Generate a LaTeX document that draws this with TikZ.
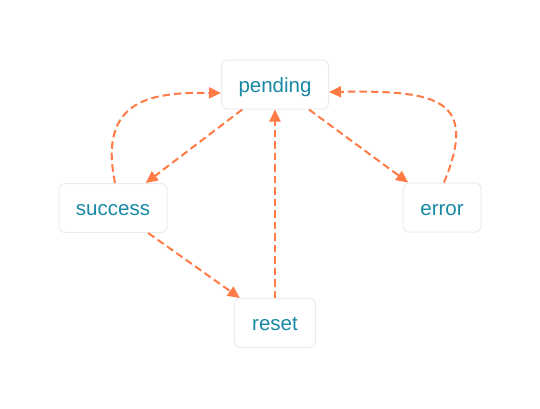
\documentclass[tikz,border=0pt]{standalone}
\usepackage{fontspec}
\setmainfont{Liberation Sans}
\usetikzlibrary{arrows.meta}
\definecolor{txtc}{RGB}{24,137,165}
\definecolor{edgec}{RGB}{255,122,69}
\definecolor{boxc}{RGB}{236,236,236}
\begin{document}
\begin{tikzpicture}[x=1bp,y=-1bp,
  state/.style={draw=boxc,line width=1bp,rounded corners=6bp,fill=white,
    text=txtc,font=\fontsize{20.5bp}{24bp}\selectfont,
    text height=19.5bp,text depth=4.1bp,
    minimum height=49bp,inner sep=0pt},
  conn/.style={draw=edgec,line width=2bp,dash pattern=on 7.5bp off 4bp,
    -{Triangle[length=12bp,width=11bp]}}]
\useasboundingbox (0,0) rectangle (540,408);
\node[state,minimum width=107bp] (pending) at (275,84.5) {pending};
\node[state,minimum width=108bp] (success) at (113,208) {success};
\node[state,minimum width=78bp] (error) at (442,207.5) {error};
\node[state,minimum width=81bp] (reset) at (275,323) {reset};
\draw[conn] (pending) -- (success);
\draw[conn] (pending) -- (error);
\draw[conn] (success) -- (reset);
\draw[conn] (reset) -- (pending);
\draw[conn] ([xshift=2bp]success.north) .. controls (98,100) and (150,92) .. ([yshift=-8.5bp]pending.west);
\draw[conn] ([xshift=2bp]error.north) .. controls (478,100) and (440,90) .. ([yshift=-7.5bp]pending.east);
\end{tikzpicture}
\end{document}
